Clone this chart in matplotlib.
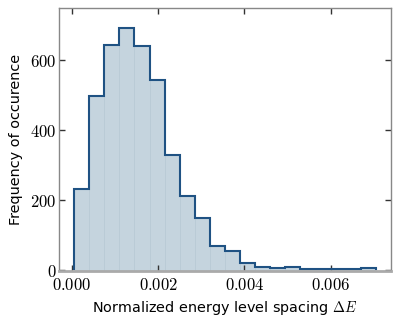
import numpy as np
import matplotlib
matplotlib.use("Agg")
import matplotlib.pyplot as plt
from matplotlib.ticker import FuncFormatter, FixedLocator

# Data
counts = [230, 497, 645, 693, 641, 545, 328, 212, 147, 68,
          52, 20, 8, 5, 6, 2, 2, 2, 2, 4]
bin_start = 0.00005
bin_width = 0.00035
xticks = [0.000, 0.002, 0.004, 0.006]
yticks = [0, 200, 400, 600]

edges = bin_start + bin_width * np.arange(len(counts) + 1)

plt.rcParams['mathtext.fontset'] = 'cm'
plt.rcParams['font.family'] = ['DejaVu Sans']

fig = plt.figure(figsize=(3.99, 3.21), dpi=100)
ax = fig.add_axes([0.148, 0.156, 0.832, 0.819])

fill_c = '#c5d4de'
line_c = '#1f5283'
ax.bar(edges[:-1], counts, width=bin_width, align='edge',
       color=fill_c, edgecolor='#b9cad6', linewidth=0.6, zorder=1)
ax.stairs(counts, edges, color=line_c, linewidth=1.5, zorder=2)

ax.set_xlim(-0.0003, 0.0074)
ax.set_ylim(-4, 750)

ax.xaxis.set_major_locator(FixedLocator(xticks))
ax.yaxis.set_major_locator(FixedLocator(yticks))
ax.xaxis.set_major_formatter(FuncFormatter(lambda v, p: r'$%.3f$' % v))
ax.yaxis.set_major_formatter(FuncFormatter(lambda v, p: r'$%d$' % v))
ax.tick_params(direction='in', length=4, width=1, color='#333333',
               labelsize=12, top=True, right=True, pad=2)
ax.tick_params(axis='x', pad=4)

for s in ax.spines.values():
    s.set_color('#888888')
    s.set_linewidth(1.0)
ax.spines['bottom'].set_color('#aaaaaa')
ax.spines['bottom'].set_linewidth(2.0)

ax.set_xlabel(r'Normalized energy level spacing $\Delta E$', fontsize=10.4, labelpad=3)
ax.set_ylabel('Frequency of occurence', fontsize=10.4, labelpad=5)

fig.savefig('out.png', dpi=100)
